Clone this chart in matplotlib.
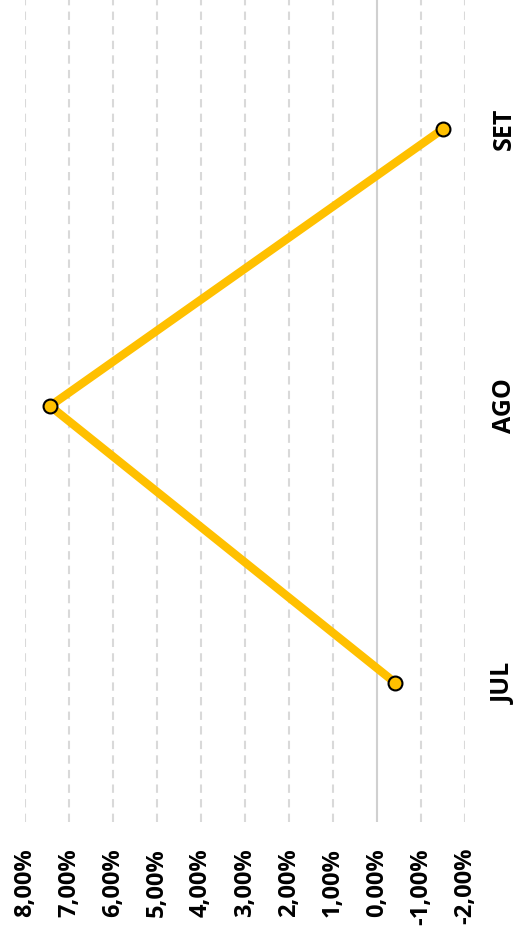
import matplotlib.pyplot as plt
from matplotlib.ticker import FuncFormatter

# Daten
meses = ['JUL', 'AGO', 'SET']
variacao = [-0.42, 7.43, -1.50]  # em %
ticks_valor = [8, 7, 6, 5, 4, 3, 2, 1, 0, -1, -2]

plt.rcParams['font.family'] = ['Open Sans', 'DejaVu Sans']

fig = plt.figure(figsize=(5.17, 9.46), dpi=100)
ax = fig.add_axes([25 / 517, 124.5 / 946, 440 / 517, 831 / 946])

pos = list(range(len(meses)))
# gráfico girado: valores na horizontal (invertido), meses na vertical
ax.plot(variacao, pos, color='#FFC000', linewidth=6, solid_capstyle='butt',
        marker='o', markersize=10, markerfacecolor='#FFC000',
        markeredgecolor='black', markeredgewidth=1.5, zorder=3)

ax.set_xlim(8, -2)
ax.set_ylim(-0.5, 2.5)

ax.set_xticks(ticks_valor)
ax.xaxis.set_major_formatter(FuncFormatter(lambda v, p: f'{v:.2f}%'.replace('.', ',')))
for t in ticks_valor:
    if t == 0:
        ax.axvline(t, color='#d0d0d0', linewidth=1.5, zorder=1)
    else:
        ax.axvline(t, color='#d9d9d9', linewidth=1.5, linestyle=(0, (4, 3)), zorder=1)

ax.set_yticks(pos)
ax.set_yticklabels(meses)
ax.yaxis.tick_right()

ax.tick_params(axis='x', length=0, pad=19, labelsize=17, rotation=90)
ax.tick_params(axis='y', length=0, pad=28.5, labelsize=18, rotation=90)
for lbl in ax.get_xticklabels():
    lbl.set_fontweight('bold')
    lbl.set_va('top')
for lbl in ax.get_yticklabels():
    lbl.set_fontweight('bold')
    lbl.set_va('center')
    lbl.set_ha('center')

for s in ax.spines.values():
    s.set_visible(False)

plt.savefig('out.png', dpi=100)
